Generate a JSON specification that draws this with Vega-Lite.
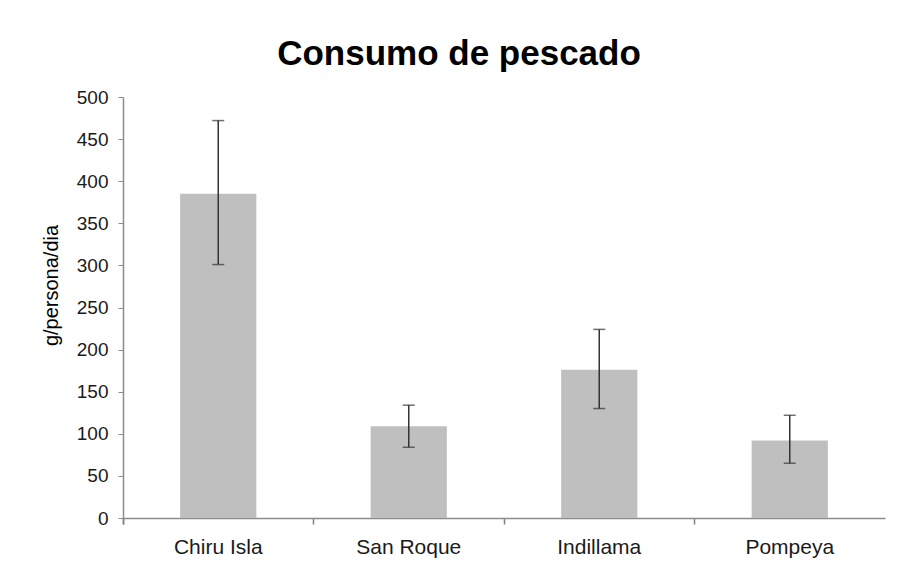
{
  "$schema": "https://vega.github.io/schema/vega-lite/v6.json",
  "width": 762,
  "height": 421,
  "autosize": {"type": "none"},
  "padding": {"left": 123, "top": 97, "right": 13, "bottom": 50},
  "background": "white",
  "title": {
    "text": "Consumo de pescado",
    "font": "Liberation Sans",
    "fontSize": 35,
    "fontWeight": "bold",
    "color": "#000000",
    "anchor": "middle",
    "dx": -45,
    "offset": 16
  },
  "config": {
    "view": {"stroke": null},
    "font": "Liberation Sans"
  },
  "data": {
    "values": [
      {"lugar": "Chiru Isla", "valor": 385, "bajo": 301, "alto": 472},
      {"lugar": "San Roque", "valor": 109, "bajo": 84, "alto": 134},
      {"lugar": "Indillama", "valor": 176, "bajo": 130, "alto": 224},
      {"lugar": "Pompeya", "valor": 92, "bajo": 65, "alto": 122}
    ]
  },
  "encoding": {
    "x": {
      "field": "lugar",
      "type": "nominal",
      "sort": null,
      "scale": {"paddingInner": 0, "paddingOuter": 0},
      "axis": {
        "title": null,
        "labelAngle": 0,
        "labelFont": "Liberation Sans",
        "labelFontSize": 21,
        "labelColor": "#1a1a1a",
        "labelPadding": 12,
        "bandPosition": 0,
        "tickExtra": true,
        "ticks": true,
        "tickSize": 6,
        "tickWidth": 1.5,
        "tickColor": "#7f7f7f",
        "domainColor": "#8c8c8c",
        "domainWidth": 1.5
      }
    }
  },
  "layer": [
    {
      "mark": {"type": "bar", "color": "#bfbfbf", "width": {"band": 0.4}},
      "encoding": {
        "y": {
          "field": "valor",
          "type": "quantitative",
          "scale": {"domain": [0, 500], "nice": false},
          "axis": {
            "title": "g/persona/dia",
            "titleFont": "Liberation Sans",
            "titleFontSize": 20,
            "titleFontWeight": "normal",
            "titleColor": "#000000",
            "titlePadding": 15,
            "titleY": 188,
            "values": [0, 50, 100, 150, 200, 250, 300, 350, 400, 450, 500],
            "grid": false,
            "labelFont": "Liberation Sans",
            "labelFontSize": 19,
            "labelColor": "#1a1a1a",
            "labelPadding": 10,
            "tickSize": 5,
            "tickColor": "#8c8c8c",
            "domainColor": "#8c8c8c",
            "domainWidth": 1.5
          }
        }
      }
    },
    {
      "mark": {"type": "rule", "color": "#333333", "strokeWidth": 1.5},
      "encoding": {
        "y": {"field": "bajo", "type": "quantitative"},
        "y2": {"field": "alto"}
      }
    },
    {
      "mark": {"type": "tick", "color": "#333333", "size": 12, "thickness": 1.5},
      "encoding": {
        "y": {"field": "alto", "type": "quantitative"}
      }
    },
    {
      "mark": {"type": "tick", "color": "#333333", "size": 12, "thickness": 1.5},
      "encoding": {
        "y": {"field": "bajo", "type": "quantitative"}
      }
    }
  ]
}
